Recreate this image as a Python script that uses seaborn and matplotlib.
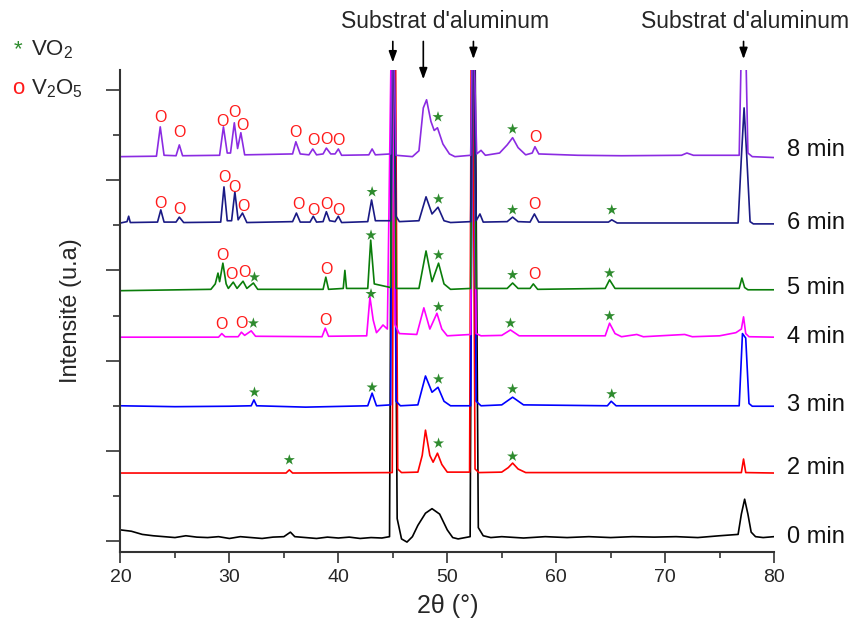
import pandas as pd
import matplotlib
matplotlib.use("Agg")
import matplotlib.pyplot as plt
from matplotlib.ticker import MultipleLocator
import seaborn as sns

sns.set_theme(style="ticks")
plt.rcParams["font.family"] = ["Liberation Sans", "DejaVu Sans"]
plt.rcParams["mathtext.default"] = "regular"

# XRD traces (2theta in degrees, stacked intensity in a.u.)
x_0min = [20, 21, 22, 23, 24, 25, 26, 27, 28, 29, 30, 31, 32, 33, 34, 35, 35.6, 36, 37, 38, 39, 40, 41, 42, 43, 44,
          44.7, 44.9, 45.1, 45.4, 45.8, 46.3, 46.8, 47.3, 48.0, 48.6, 49.3, 50.0, 50.5, 51.0, 52.1, 52.3, 52.55, 52.85,
          53.3, 54, 55, 57, 59, 61, 63, 65, 67, 69, 71, 73, 75, 76.7, 77.0, 77.3, 77.6, 77.9, 78.3, 79, 80]
y_0min = [0.25, 0.22, 0.15, 0.12, 0.10, 0.08, 0.12, 0.09, 0.08, 0.10, 0.06, 0.10, 0.08, 0.06, 0.09, 0.10, 0.20, 0.10,
          0.08, 0.06, 0.09, 0.07, 0.09, 0.06, 0.08, 0.07, 0.10, 11, 11, 0.50, 0.05, -0.02, 0.10, 0.35, 0.62, 0.72,
          0.60, 0.25, 0.08, 0.05, 0.10, 11, 11, 0.30, 0.12, 0.08, 0.10, 0.07, 0.10, 0.08, 0.10, 0.08, 0.10, 0.09,
          0.10, 0.08, 0.12, 0.15, 0.60, 0.93, 0.60, 0.20, 0.10, 0.08, 0.10]

x_2min = [20, 35.2, 35.5, 35.8, 44.95, 45.1, 45.25, 45.45, 45.8, 47.3, 47.7, 48.0, 48.4, 48.7, 49.1, 49.5, 50.0, 52.05,
          52.2, 52.35, 52.55, 52.9, 55.0, 55.6, 56.0, 56.5, 57.2, 77.0, 77.2, 77.4, 80]
y_2min = [1.51, 1.51, 1.58, 1.51, 1.52, 11, 11, 1.60, 1.52, 1.53, 1.90, 2.46, 1.90, 1.75, 1.95, 1.70, 1.53, 1.53,
          11, 11, 1.60, 1.52, 1.53, 1.63, 1.73, 1.60, 1.52, 1.52, 1.82, 1.52, 1.51]

x_3min = [20, 25, 30, 32.0, 32.25, 32.5, 37, 42.7, 43.1, 43.5, 44.8, 44.95, 45.1, 45.3, 45.7, 47.3, 48.0, 48.6,
          49.15, 49.7, 50.3, 52.15, 52.3, 52.45, 52.65, 53.1, 55.0, 56.0, 57.0, 64.7, 65.05, 65.5, 76.8, 77.1, 77.4,
          77.7, 78.0, 80]
y_3min = [3.00, 2.98, 2.99, 3.00, 3.13, 3.00, 2.97, 3.00, 3.28, 3.00, 3.02, 11, 11, 3.10, 3.00, 3.02, 3.66, 3.30,
          3.41, 3.10, 3.00, 3.00, 11, 11, 3.10, 3.00, 3.02, 3.19, 3.02, 3.00, 3.10, 3.00, 3.00, 4.60, 4.50, 3.05,
          2.99, 2.99]

x_4min = [20, 29.0, 29.3, 29.6, 30.8, 31.1, 31.4, 32.0, 32.4, 38.5, 38.8, 39.1, 42.6, 42.9, 43.2, 43.5, 43.8, 44.1,
          44.5, 44.85, 45.0, 45.2, 45.6, 47.2, 47.85, 48.4, 49.05, 49.5, 50.0, 52.15, 52.3, 52.45, 52.65, 53.1, 55.0,
          55.8, 56.6, 64.5, 64.9, 65.4, 66.0, 67.4, 68, 71.8, 72.5, 75.0, 76.5, 77.0, 77.2, 77.4, 77.7, 80]
y_4min = [4.52, 4.52, 4.60, 4.53, 4.53, 4.63, 4.56, 4.66, 4.54, 4.53, 4.72, 4.54, 4.55, 5.41, 4.90, 4.62, 4.70,
          4.79, 4.70, 11, 11, 4.80, 4.60, 4.58, 5.17, 4.70, 5.05, 4.70, 4.55, 4.58, 11, 11, 4.60, 4.55, 4.56, 4.68,
          4.55, 4.55, 4.83, 4.60, 4.53, 4.58, 4.53, 4.58, 4.53, 4.55, 4.62, 4.70, 4.97, 4.60, 4.53, 4.52]

x_5min = [20, 28.3, 28.7, 28.95, 29.1, 29.4, 29.7, 29.9, 30.35, 30.7, 31.25, 31.6, 32.2, 32.6, 38.6, 38.85, 39.1,
          40.45, 40.6, 40.75, 42.7, 42.97, 43.3, 44.8, 44.95, 45.1, 45.3, 47.4, 48.05, 48.6, 49.2, 49.7, 50.3, 52.15,
          52.3, 52.45, 52.65, 55.5, 56.0, 56.5, 57.6, 57.9, 58.3, 64.5, 64.9, 65.4, 76.8, 77.05, 77.3, 77.6, 80]
y_5min = [5.55, 5.58, 5.70, 5.94, 5.75, 6.16, 5.70, 5.60, 5.74, 5.60, 5.76, 5.60, 5.72, 5.58, 5.58, 5.85, 5.58,
          5.60, 6.00, 5.60, 5.60, 6.67, 5.70, 5.62, 11, 11, 5.60, 5.60, 6.43, 5.75, 6.16, 5.70, 5.58, 5.60, 11, 11,
          5.60, 5.60, 5.72, 5.60, 5.60, 5.70, 5.58, 5.60, 5.79, 5.60, 5.60, 5.83, 5.62, 5.57, 5.57]

x_6min = [20, 20.6, 20.75, 20.9, 23.4, 23.7, 24.0, 25.1, 25.4, 25.8, 29.2, 29.5, 29.8, 30.2, 30.5, 30.8, 31.2,
          31.6, 35.8, 36.15, 36.5, 37.4, 37.7, 38.0, 38.6, 38.9, 39.2, 39.7, 40.0, 40.3, 42.7, 43.05, 43.4, 44.8,
          44.95, 45.1, 45.3, 45.6, 47.4, 48.05, 48.6, 49.15, 49.7, 50.3, 52.15, 52.3, 52.45, 52.65, 53.0, 53.3, 55.5,
          56.0, 56.5, 57.6, 58.0, 58.4, 64.8, 65.1, 65.6, 76.7, 77.0, 77.25, 77.5, 77.8, 78.1, 80]
y_6min = [7.05, 7.08, 7.20, 7.06, 7.07, 7.34, 7.07, 7.07, 7.18, 7.06, 7.07, 7.85, 7.10, 7.10, 7.74, 7.12, 7.27,
          7.06, 7.08, 7.27, 7.07, 7.07, 7.20, 7.07, 7.08, 7.30, 7.10, 7.08, 7.20, 7.06, 7.08, 7.56, 7.10, 7.10, 11,
          11, 7.20, 7.08, 7.10, 7.63, 7.25, 7.40, 7.10, 7.06, 7.08, 11, 11, 7.10, 7.25, 7.07, 7.08, 7.18, 7.08, 7.07,
          7.25, 7.07, 7.07, 7.12, 7.05, 7.05, 8.50, 9.60, 8.50, 7.08, 7.03, 7.03]

x_8min = [20, 23.3, 23.65, 24.0, 25.1, 25.4, 25.7, 29.1, 29.45, 29.8, 30.1, 30.45, 30.75, 31.05, 31.4, 35.8, 36.1,
          36.5, 37.3, 37.65, 38.0, 38.6, 38.9, 39.3, 39.7, 40.0, 40.3, 42.8, 43.1, 43.4, 44.8, 44.95, 45.1, 45.3,
          46.8, 47.4, 47.8, 48.1, 48.5, 48.8, 49.1, 49.6, 50.2, 50.7, 52.15, 52.3, 52.45, 52.7, 53.1, 53.5, 54.8, 55.5,
          56.0, 56.5, 57.2, 57.8, 58.05, 58.4, 62, 66, 71.5, 72.0, 72.6, 76.8, 77.0, 77.4, 77.6, 78.0, 80]
y_8min = [8.52, 8.53, 9.18, 8.55, 8.54, 8.78, 8.54, 8.55, 9.18, 8.60, 8.60, 9.27, 8.70, 9.05, 8.56, 8.58, 8.85,
          8.58, 8.56, 8.69, 8.56, 8.58, 8.71, 8.58, 8.58, 8.69, 8.55, 8.56, 8.69, 8.56, 8.58, 11, 11, 8.55, 8.52,
          8.65, 9.60, 9.78, 9.30, 9.10, 9.16, 8.80, 8.58, 8.52, 8.55, 11, 11, 8.58, 8.66, 8.55, 8.60, 8.78, 8.94,
          8.72, 8.56, 8.60, 8.74, 8.58, 8.55, 8.54, 8.55, 8.60, 8.55, 8.55, 11, 11, 8.60, 8.52, 8.50]

times = ["0 min", "2 min", "3 min", "4 min", "5 min", "6 min", "8 min"]
label_y = [0.09, 1.62, 3.02, 4.52, 5.61, 7.05, 8.67]
colors = ["#000000", "#ff0000", "#0000ff", "#ff00ff", "#0a7d0a", "#1a1a85", "#8b2be2"]

# phase markers (peak identification)
v2o5_x = [23.7, 25.4, 29.4, 30.5, 31.2, 36.1, 37.7, 38.9, 40.0, 58.1,
          23.7, 25.4, 29.5, 30.5, 31.3, 36.3, 37.7, 38.9, 40.0, 58.0,
          29.4, 30.2, 31.4, 38.9, 58.0,
          29.3, 31.1, 38.8]
v2o5_y = [9.38, 9.05, 9.29, 9.49, 9.20, 9.05, 8.87, 8.91, 8.87, 8.94,
          7.49, 7.34, 8.05, 7.83, 7.41, 7.45, 7.32, 7.47, 7.32, 7.45,
          6.34, 5.90, 5.96, 6.01, 5.90,
          4.81, 4.83, 4.90]
vo2_x = [49.15, 56.0,
         43.1, 49.2, 56.0, 65.1,
         32.3, 43.0, 49.2, 56.0, 64.9,
         32.2, 43.0, 49.2, 55.8, 64.9,
         32.3, 43.1, 49.2, 56.0, 65.1,
         35.5, 49.2, 56.0]
vo2_y = [9.40, 9.13,
         7.74, 7.58, 7.34, 7.34,
         5.85, 6.78, 6.34, 5.90, 5.94,
         4.83, 5.48, 5.19, 4.83, 4.99,
         3.30, 3.41, 3.59, 3.37, 3.26,
         1.80, 2.17, 1.88]

substrate_x = [45.0, 47.8, 52.4, 77.2]
substrate_tip = [1.010, 0.975, 1.017, 1.017]

traces = [(x_0min, y_0min), (x_2min, y_2min), (x_3min, y_3min), (x_4min, y_4min),
          (x_5min, y_5min), (x_6min, y_6min), (x_8min, y_8min)]
frames = []
for t, (xs, ys) in zip(times, traces):
    frames.append(pd.DataFrame({"theta": xs, "I": ys, "time": t}))
df = pd.concat(frames, ignore_index=True)

fig = plt.figure(figsize=(8.57, 6.26), dpi=100)
ax = fig.add_axes([0.1406, 0.1182, 0.7626, 0.770])

sns.lineplot(data=df, x="theta", y="I", hue="time", palette=dict(zip(times, colors)),
             estimator=None, sort=False, legend=False, linewidth=1.2, ax=ax)

for x, y in zip(v2o5_x, v2o5_y):
    ax.text(x, y, "O", color="#ff1a1a", fontsize=11.5, ha="center", va="center", zorder=5)
sns.scatterplot(x=vo2_x, y=vo2_y, marker="*", s=70, color="#2e8b2e", edgecolor="none", ax=ax, zorder=5)

for t, y in zip(times, label_y):
    ax.text(81.2, y, t, fontsize=17, ha="left", va="center", color="#111111", clip_on=False)

# substrate arrows
tr = ax.get_xaxis_transform()
for x, tip in zip(substrate_x, substrate_tip):
    ax.annotate("", xy=(x, tip), xycoords=tr, xytext=(x, 1.065), textcoords=tr,
                arrowprops=dict(arrowstyle="-|>,head_width=0.2,head_length=0.55", color="black", lw=1.2),
                annotation_clip=False)
ax.text(49.8, 1.10, "Substrat d'aluminum", transform=tr, fontsize=16.5, ha="center", va="center")
ax.text(77.3, 1.10, "Substrat d'aluminum", transform=tr, fontsize=16.5, ha="center", va="center")

# phase legend
fig.text(0.021, 0.921, "*", color="#2e8b2e", fontsize=16, ha="center", va="center")
fig.text(0.036, 0.921, "VO$_2$", fontsize=16, ha="left", va="center")
fig.text(0.021, 0.859, "o", color="#ff1a1a", fontsize=16, ha="center", va="center")
fig.text(0.036, 0.859, "V$_2$O$_5$", fontsize=16, ha="left", va="center")

ax.set_xlim(20, 80)
ax.set_ylim(-0.24, 10.44)
ax.xaxis.set_major_locator(MultipleLocator(10))
ax.xaxis.set_minor_locator(MultipleLocator(5))
ax.yaxis.set_major_locator(MultipleLocator(2))
ax.yaxis.set_minor_locator(MultipleLocator(1))
ax.set_yticklabels([])
ax.tick_params(axis="x", which="major", length=8, width=1.2, labelsize=14, color="#333333", pad=4)
ax.tick_params(axis="x", which="minor", length=4, width=1.2, color="#333333")
ax.tick_params(axis="y", which="major", length=10, width=1.2, color="#333333", left=True)
ax.tick_params(axis="y", which="minor", length=5, width=1.2, color="#333333", left=True)
sns.despine(ax=ax)
for s in ["left", "bottom"]:
    ax.spines[s].set_linewidth(1.5)
    ax.spines[s].set_color("#333333")
ax.set_facecolor("white")
ax.set_xlabel("2θ (°)", fontsize=18, labelpad=6)
ax.set_ylabel("Intensité (u.a)", fontsize=17, labelpad=14)

fig.savefig("out.png", dpi=100, facecolor="white")
